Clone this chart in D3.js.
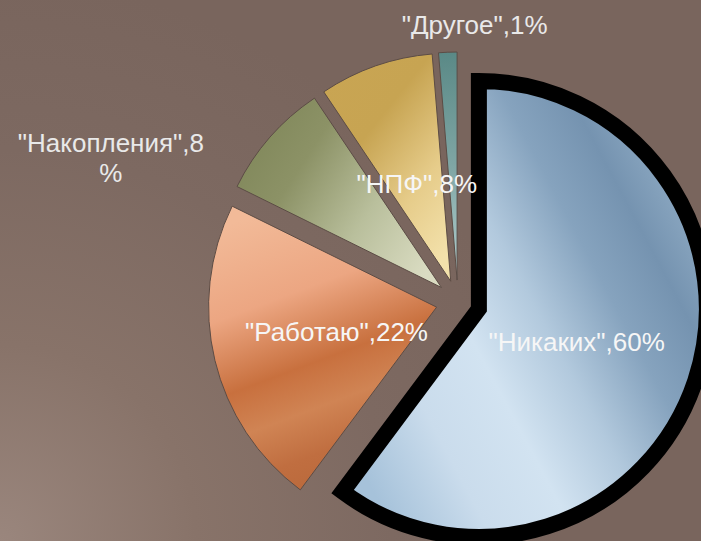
<!DOCTYPE html>
<html>
<head>
<meta charset="utf-8">
<script src="https://cdn.jsdelivr.net/npm/d3@7/dist/d3.min.js"></script>
<style>
  html, body { margin: 0; padding: 0; background: #7b6860; overflow: hidden; }
  svg { display: block; }
  text { font-family: "Liberation Sans", Arial, sans-serif; }
</style>
</head>
<body>
<svg id="chart" width="701" height="541"></svg>
<script>
// ---- data ----
const categories = ["Никаких", "Работаю", "Накопления", "НПФ", "Другое"];
const values = [60.2, 22.1, 8.3, 8.1, 1.3];   // shares
const labelValues = [60, 22, 8, 8, 1];         // percentages as printed

// ---- styles ----
const gradients = [
  // Никаких – steel blue
  { x1: 0.05, y1: 0.85, x2: 0.95, y2: 0.25,
    stops: [[0, "#a6c2da"], [0.2, "#cadcec"], [0.38, "#d2e3f1"], [0.55, "#b2c9dd"], [0.72, "#86a3be"], [0.86, "#7593b0"], [1, "#8eaac3"]] },
  // Работаю – copper
  { x1: 0.3, y1: 0, x2: 0.6, y2: 1,
    stops: [[0, "#f2ba98"], [0.3, "#eca682"], [0.55, "#c8703e"], [0.7, "#d08454"], [0.85, "#c06e40"], [1, "#b9683a"]] },
  // Накопления – olive
  { x1: 0, y1: 0.2, x2: 1, y2: 0.8,
    stops: [[0, "#7f8659"], [0.3, "#8c9266"], [0.65, "#b9bf9c"], [1, "#dadcc2"]] },
  // НПФ – gold
  { x1: 0.1, y1: 0, x2: 0.8, y2: 1,
    stops: [[0, "#c9a553"], [0.35, "#c7a452"], [0.7, "#e6cc8a"], [1, "#f3e1ab"]] },
  // Другое – teal
  { x1: 0, y1: 0, x2: 0, y2: 1,
    stops: [[0, "#5a8986"], [0.5, "#7fa6a4"], [1, "#b2cece"]] }
];

const W = 701, H = 541;
const cx = 458, cy = 302, R = 228, explode = 22;
const insideR = 103;

const svg = d3.select("#chart");
const defs = svg.append("defs");

// background
const bg = defs.append("radialGradient").attr("id", "bg")
  .attr("gradientUnits", "userSpaceOnUse")
  .attr("cx", 0).attr("cy", H).attr("r", 560);
bg.append("stop").attr("offset", 0).attr("stop-color", "#9a867d");
bg.append("stop").attr("offset", 0.35).attr("stop-color", "#887369");
bg.append("stop").attr("offset", 0.7).attr("stop-color", "#7d6961");
bg.append("stop").attr("offset", 1).attr("stop-color", "#79655d");
svg.append("rect").attr("width", W).attr("height", H).attr("fill", "url(#bg)");

gradients.forEach((g, i) => {
  const lg = defs.append("linearGradient").attr("id", "g" + i)
    .attr("x1", g.x1).attr("y1", g.y1).attr("x2", g.x2).attr("y2", g.y2);
  g.stops.forEach(s => lg.append("stop").attr("offset", s[0]).attr("stop-color", s[1]));
});

const pie = d3.pie().sort(null).value(d => d.value).startAngle(0).endAngle(2 * Math.PI);
const data = categories.map((c, i) => ({ name: c, value: values[i], label: labelValues[i], idx: i }));
const arcs = pie(data);
const arc = d3.arc().innerRadius(0).outerRadius(R);

const dir = a => [Math.sin(a), -Math.cos(a)];

const g = svg.append("g").attr("transform", `translate(${cx},${cy})`);

// draw small slices first, main slice last (thick outline)
const order = arcs.slice(1).concat([arcs[0]]);
g.selectAll("path.slice").data(order).join("path")
  .attr("class", "slice")
  .attr("transform", d => {
    const m = (d.startAngle + d.endAngle) / 2;
    const [dx, dy] = dir(m);
    return `translate(${dx * explode},${dy * explode})`;
  })
  .attr("d", arc)
  .attr("fill", d => `url(#g${d.data.idx})`)
  .attr("stroke", d => d.data.idx === 0 ? "#000" : "#5c4c45")
  .attr("stroke-width", d => d.data.idx === 0 ? 16 : 1)
  .attr("stroke-linejoin", "miter")
  .attr("stroke-miterlimit", 10);

// labels
const outside = { "Накопления": [-138, 39], "Другое": [28, 0] };
const lineH = 30;
const labels = svg.append("g");
arcs.forEach(d => {
  const m = (d.startAngle + d.endAngle) / 2;
  const [ux, uy] = dir(m);
  const scx = cx + ux * explode, scy = cy + uy * explode;
  const txt = `"${d.data.name}",${d.data.label}%`;
  const isOut = d.data.name in outside;
  let x, y;
  if (isOut) {
    const nd = outside[d.data.name];
    x = scx + ux * (R + 28) + nd[0];
    y = scy + uy * (R + 28) + nd[1];
  } else {
    x = scx + ux * insideR;
    y = scy + uy * insideR;
  }
  const t = labels.append("text")
    .attr("text-anchor", "middle")
    .attr("font-size", 26)
    .attr("fill", isOut ? "#e9e9e9" : "#f6f6f6");
  // wrap by measured width
  const maxW = 200;
  const lines = [];
  const probe = t.append("tspan").text(txt);
  if (probe.node().getComputedTextLength() > maxW) {
    let cut = txt.length;
    while (cut > 1) {
      probe.text(txt.slice(0, cut));
      if (probe.node().getComputedTextLength() <= maxW) break;
      cut--;
    }
    lines.push(txt.slice(0, cut), txt.slice(cut));
  } else {
    lines.push(txt);
  }
  probe.remove();
  const y0 = y - (lines.length - 1) * lineH / 2;
  lines.forEach((ln, i) => {
    t.append("tspan").attr("x", x).attr("y", y0 + i * lineH)
      .attr("dy", "0.36em").text(ln);
  });
});
</script>
</body>
</html>
